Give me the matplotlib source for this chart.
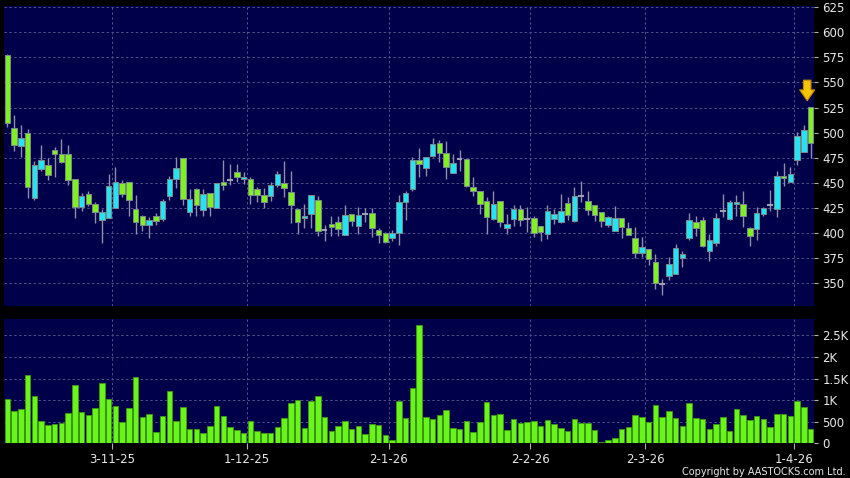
import matplotlib
matplotlib.use('Agg')
import matplotlib.pyplot as plt
import numpy as np

# daily OHLC (index 0 = first session shown)
opens = [577, 505, 487, 500, 435, 464, 468, 483, 479, 479, 454, 426, 439, 429, 413, 415, 425, 450, 451, 424,
         417, 408, 417, 414, 437, 454, 475, 421, 444, 423, 440, 425, 451, 453, 461, 454, 454, 444, 438, 437,
         448, 450, 441, 424, 415, 419, 433, 403, 409, 411, 398, 419, 407, 419, 420, 403, 400, 395, 400, 431,
         444, 473, 465, 477, 490, 480, 460, 474, 474, 446, 442, 432, 414, 432, 405, 414, 424, 414, 415, 407,
         399, 414, 411, 430, 412, 437, 432, 428, 421, 408, 402, 415, 405, 395, 380, 384, 371, 349, 357, 359,
         375, 395, 411, 413, 382, 390, 422, 414, 429, 429, 405, 404, 419, 428, 424, 457, 451, 473, 481, 526]
highs = [578, 518, 508, 504, 472, 488, 475, 486, 494, 488, 454, 440, 442, 431, 424, 459, 466, 453, 451, 438,
         418, 416, 420, 434, 457, 476, 475, 444, 445, 444, 440, 450, 473, 469, 469, 461, 456, 446, 445, 451,
         462, 472, 462, 424, 429, 438, 437, 408, 417, 417, 428, 419, 426, 425, 425, 405, 401, 403, 438, 442,
         476, 485, 476, 495, 493, 492, 479, 483, 474, 456, 442, 436, 442, 432, 419, 428, 428, 426, 417, 407,
         428, 424, 439, 436, 446, 452, 442, 428, 421, 417, 427, 415, 411, 406, 396, 384, 379, 354, 376, 389,
         382, 420, 417, 416, 399, 420, 439, 433, 438, 442, 406, 426, 426, 443, 462, 470, 466, 501, 508, 526]
lows = [506, 482, 476, 435, 433, 462, 453, 456, 470, 448, 415, 422, 427, 410, 390, 415, 425, 436, 417, 399,
        402, 395, 408, 412, 433, 445, 428, 417, 417, 417, 417, 425, 443, 448, 451, 449, 429, 431, 425, 432,
        446, 436, 410, 399, 405, 405, 397, 392, 397, 397, 398, 407, 399, 411, 396, 390, 390, 392, 388, 413,
        442, 456, 457, 476, 471, 454, 460, 462, 446, 437, 419, 399, 413, 406, 399, 407, 407, 401, 396, 392,
        394, 409, 410, 413, 411, 431, 418, 412, 406, 406, 402, 395, 398, 375, 376, 368, 344, 338, 353, 359,
        366, 393, 397, 386, 372, 387, 416, 413, 417, 406, 387, 393, 417, 422, 416, 447, 451, 468, 481, 475]
closes = [510, 488, 495, 446, 468, 473, 458, 479, 471, 453, 426, 437, 429, 421, 421, 447, 451, 439, 433, 411,
          408, 413, 412, 432, 454, 465, 434, 434, 428, 439, 426, 450, 448, 453, 456, 456, 438, 438, 431, 448,
          459, 445, 428, 411, 417, 438, 402, 403, 406, 404, 418, 412, 418, 419, 405, 398, 391, 400, 431, 440,
          473, 469, 476, 489, 480, 466, 470, 474, 447, 442, 429, 416, 429, 411, 409, 424, 413, 414, 400, 401,
          422, 419, 422, 418, 437, 437, 423, 418, 412, 416, 415, 406, 398, 380, 386, 374, 350, 349, 369, 385,
          379, 413, 405, 387, 393, 415, 422, 431, 431, 417, 397, 420, 425, 428, 457, 455, 459, 497, 503, 490]
volumes = [1022, 751, 797, 1587, 1099, 526, 426, 457, 480, 704, 1355, 728, 666, 820, 1393, 1022, 867, 495, 820, 1540,
           604, 673, 271, 642, 1223, 511, 836, 325, 325, 232, 395, 875, 635, 372, 317, 232, 519, 286, 240, 240,
           379, 588, 944, 1006, 348, 991, 1099, 604, 294, 395, 519, 333, 410, 209, 441, 426, 194, 77, 991, 588,
           1285, 2748, 608, 565, 650, 782, 356, 333, 511, 263, 488, 952, 666, 673, 310, 573, 472, 503, 519, 410,
           534, 449, 356, 279, 565, 480, 480, 310, 23, 85, 124, 341, 379, 650, 604, 503, 882, 619, 751, 581,
           410, 937, 581, 573, 325, 449, 611, 279, 797, 666, 542, 635, 557, 387, 673, 681, 635, 991, 851, 341]

date_labels = ['3-11-25', '1-12-25', '2-1-26', '2-2-26', '2-3-26', '1-4-26']
date_idx = [15, 35, 56, 77, 94, 116]
price_ticks = [350, 375, 400, 425, 450, 475, 500, 525, 550, 575, 600, 625]
vol_ticks = [0, 500, 1000, 1500, 2000, 2500]
vol_tick_labels = ['0', '500', '1K', '1.5K', '2K', '2.5K']

bg = '#00004a'
grid_c = '#50508a'
up_c = '#22e4f4'
down_c = '#7ff020'
wick_c = '#8e8ea8'
txt_c = '#e8e8e8'

o = np.array(opens)
h = np.array(highs)
l = np.array(lows)
c = np.array(closes)
x = np.arange(len(o))

fig = plt.figure(figsize=(8.5, 4.78), dpi=100, facecolor='black')
ax = fig.add_axes([0.0047, 0.3598, 0.9529, 0.6276], facecolor=bg)
axv = fig.add_axes([0.0047, 0.0722, 0.9529, 0.2604], facecolor=bg, sharex=ax)

# candles
ax.vlines(x, l, h, color=wick_c, linewidth=1, zorder=2)
doji = np.abs(c - o) < 0.5
body = ~doji
cols = np.where(c >= o, up_c, down_c)
ax.bar(x[body], np.abs(c - o)[body], bottom=np.minimum(o, c)[body], width=0.84,
       color=cols[body], edgecolor='#7c8a8c', linewidth=0.7, zorder=3)
ax.hlines(o[doji], x[doji] - 0.42, x[doji] + 0.42, color='#a0a0b4', linewidth=1.5, zorder=3)

# arrow over the last candle
last = len(o) - 1
ax.annotate('', xy=(last - 0.5, h[last] + 3), xytext=(last - 0.5, h[last] + 29),
            arrowprops=dict(arrowstyle='simple,head_length=0.65,head_width=0.9,tail_width=0.45',
                            fc='#f7c400', ec='#c08a00', lw=0.8, mutation_scale=12), zorder=5)

# volume
axv.bar(x, volumes, width=0.84, color='#6af51a', edgecolor='#3c9a10', linewidth=0.6, zorder=3)

tick_pos = [i + 0.5 for i in date_idx]
for a in (ax, axv):
    a.set_xlim(-0.5, len(o) - 0.5)
    a.grid(True, color=grid_c, linestyle=(0, (2.5, 2.5)), linewidth=0.7)
    a.set_axisbelow(True)
    for s in a.spines.values():
        s.set_visible(False)
    a.yaxis.tick_right()
    a.tick_params(axis='y', colors='#b0b0b0', labelcolor=txt_c, labelsize=8.5,
                  length=3, pad=3, direction='out')

ax.set_ylim(327.5, 626)
ax.set_yticks(price_ticks)
ax.set_xticks(tick_pos)
ax.tick_params(axis='x', bottom=False, labelbottom=False)

axv.set_ylim(0, 2880)
axv.set_yticks(vol_ticks)
axv.set_yticklabels(vol_tick_labels)
axv.set_xticks(tick_pos)
axv.set_xticklabels(date_labels)
axv.tick_params(axis='x', colors='#b0b0b0', labelcolor=txt_c, labelsize=8.5, length=4, pad=2.5)

fig.text(0.995, 0.003, 'Copyright by AASTOCKS.com Ltd.', color=txt_c, fontsize=7,
         ha='right', va='bottom')

plt.savefig('out.png', dpi=100, facecolor='black')
